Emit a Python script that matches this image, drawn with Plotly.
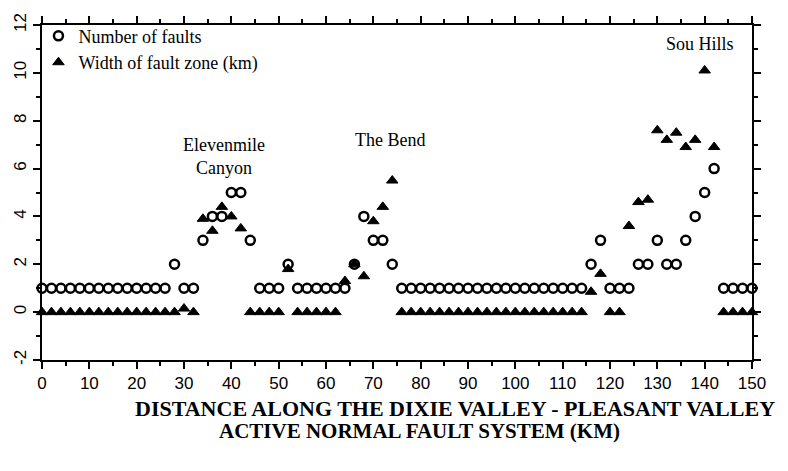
import plotly.graph_objects as go

distance_km = [0, 2, 4, 6, 8, 10, 12, 14, 16, 18, 20, 22, 24, 26, 28, 30, 32, 34, 36, 38,
               40, 42, 44, 46, 48, 50, 52, 54, 56, 58, 60, 62, 64, 66, 68, 70, 72, 74, 76, 78,
               80, 82, 84, 86, 88, 90, 92, 94, 96, 98, 100, 102, 104, 106, 108, 110, 112, 114, 116, 118,
               120, 122, 124, 126, 128, 130, 132, 134, 136, 138, 140, 142, 144, 146, 148, 150]

number_of_faults = [1, 1, 1, 1, 1, 1, 1, 1, 1, 1, 1, 1, 1, 1, 2, 1, 1, 3, 4, 4,
                    5, 5, 3, 1, 1, 1, 2, 1, 1, 1, 1, 1, 1, 2, 4, 3, 3, 2, 1, 1,
                    1, 1, 1, 1, 1, 1, 1, 1, 1, 1, 1, 1, 1, 1, 1, 1, 1, 1, 2, 3,
                    1, 1, 1, 2, 2, 3, 2, 2, 3, 4, 5, 6, 1, 1, 1, 1]

width_km = [0, 0, 0, 0, 0, 0, 0, 0, 0, 0, 0, 0, 0, 0, 0, 0.15, 0, 3.9, 3.4, 4.4,
            4.0, 3.5, 0, 0, 0, 0, 1.8, 0, 0, 0, 0, 0, 1.3, 2.0, 1.5, 3.8, 4.4, 5.5, 0, 0,
            0, 0, 0, 0, 0, 0, 0, 0, 0, 0, 0, 0, 0, 0, 0, 0, 0, 0, 0.85, 1.6,
            0, 0, 3.6, 4.6, 4.7, 7.6, 7.2, 7.5, 6.9, 7.2, 10.1, 6.9, 0, 0, 0, 0]

x_ticks = [0, 10, 20, 30, 40, 50, 60, 70, 80, 90, 100, 110, 120, 130, 140, 150]
y_ticks = [-2, 0, 2, 4, 6, 8, 10, 12]

region_labels = ["Elevenmile<br>Canyon", "The Bend", "Sou Hills"]
region_x = [38.5, 73.5, 139]
region_y = [6.5, 7.2, 11.2]

title_lines = ["DISTANCE ALONG THE DIXIE VALLEY - PLEASANT VALLEY",
               "ACTIVE NORMAL FAULT SYSTEM (KM)"]

SERIF = "Liberation Serif, Times New Roman, serif"
SANS = "Liberation Sans, Arial, Helvetica, sans-serif"

fig = go.Figure()
fig.add_trace(go.Scatter(
    x=distance_km, y=number_of_faults, mode="markers", name="Number of faults",
    cliponaxis=False,
    marker=dict(symbol="circle-open", size=9, color="black", line=dict(width=2.5, color="black")),
))
fig.add_trace(go.Scatter(
    x=distance_km, y=width_km, mode="markers", name="Width of fault zone (km)",
    cliponaxis=False,
    marker=dict(symbol="triangle-up", size=10, color="black", line=dict(width=1, color="black")),
))

for t, xv, yv in zip(region_labels, region_x, region_y):
    fig.add_annotation(x=xv, y=yv, text=t, showarrow=False,
                       font=dict(family=SERIF, size=18, color="black"))

for t, xp, yp, fs in zip(title_lines, [0.582, 0.531], [-0.146, -0.211], [22, 21]):
    fig.add_annotation(x=xp, y=yp, xref="paper", yref="paper", text="<b>" + t + "</b>",
                       showarrow=False, xanchor="center", yanchor="middle",
                       font=dict(family=SERIF, size=fs, color="black"))

fig.update_layout(
    width=788, height=471,
    margin=dict(l=34, r=44, t=10, b=119),
    paper_bgcolor="white", plot_bgcolor="white",
    font=dict(family=SANS, size=17, color="black"),
    showlegend=True,
    legend=dict(x=-0.005, y=1.022, xanchor="left", yanchor="top", bgcolor="rgba(0,0,0,0)",
                font=dict(family=SERIF, size=18, color="black"), itemsizing="trace",
                tracegroupgap=0),
    xaxis=dict(
        range=[0, 150], tickmode="array", tickvals=x_ticks, ticktext=[str(v) for v in x_ticks],
        automargin=False, ticklabeloverflow="allow",
        showgrid=False, zeroline=False, showline=True, linecolor="black", linewidth=2,
        mirror="ticks", ticks="outside", ticklen=7, tickwidth=2, tickcolor="black",
        tickfont=dict(family=SANS, size=17, color="black"),
        minor=dict(dtick=5, tick0=0, ticks="outside", ticklen=4, tickwidth=1.5, tickcolor="black"),
    ),
    yaxis=dict(
        range=[-2, 12], tickmode="array", tickvals=y_ticks, ticktext=[str(v) for v in y_ticks],
        tickangle=-90, automargin=False, ticklabeloverflow="allow",
        showgrid=False, zeroline=False, showline=True, linecolor="black", linewidth=2,
        mirror="ticks", ticks="outside", ticklen=7, tickwidth=2, tickcolor="black",
        tickfont=dict(family=SANS, size=17, color="black"),
        minor=dict(dtick=1, tick0=0, ticks="outside", ticklen=4, tickwidth=1.5, tickcolor="black"),
    ),
)

fig.write_html("out.html")
